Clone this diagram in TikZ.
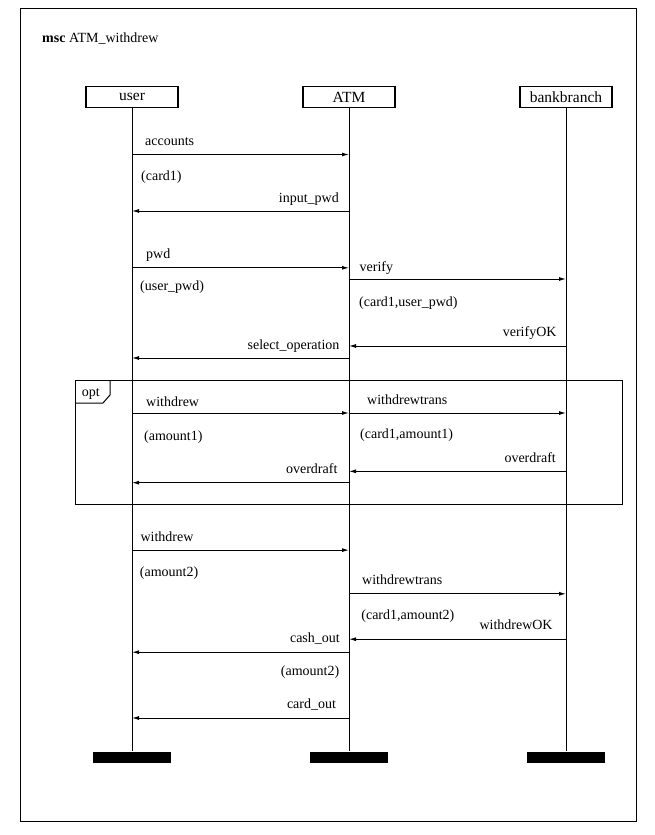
\documentclass[tikz,border=0pt]{standalone}
\usepackage{fontspec}
\setmainfont{Liberation Serif}
\usetikzlibrary{arrows.meta}
\begin{document}
\begin{tikzpicture}[x=1pt,y=-1pt,
  txt/.style={font=\fontsize{14}{16}\selectfont, inner sep=0pt},
  lw/.style={txt, anchor=base west},
  le/.style={txt, anchor=base east},
  inst/.style={draw, line width=1.1pt, minimum width=92pt, minimum height=21pt,
               inner sep=0pt, font=\fontsize{15.5}{17}\selectfont},
  endbar/.style={fill=black, minimum width=78pt, minimum height=11pt, inner sep=0pt},
  life/.style={line width=1pt},
  msg/.style={line width=1pt, -{Latex[length=7pt,width=4pt]}},
  frame/.style={line width=1pt}]
\useasboundingbox (0,0) rectangle (654,835);
\fill[white] (0,0) rectangle (654,835);

% diagram frame and title
\draw[frame] (20,8.5) rectangle (636,821);
\node[lw] (title) at (42,42) {\textbf{msc} ATM\_withdrew};

% instances
\node[inst] (u) at (132,97) {user};
\node[inst] (a) at (349,97) {ATM};
\node[inst] (b) at (566,97) {bankbranch};

% instance ends
\node[endbar] (ue) at (132,757) {};
\node[endbar] (ae) at (349,757) {};
\node[endbar] (be) at (566,757) {};

% lifelines
\draw[life] (u.south) -- (ue.north);
\draw[life] (a.south) -- (ae.north);
\draw[life] (b.south) -- (be.north);

% card and password
\draw[msg] (u |- 0,154.5) -- (a |- 0,154.5);
\node[lw] (m1) at (145,145) {accounts};
\node[lw] (p1) at (141,180.3) {(card1)};

\draw[msg] (a |- 0,211) -- (u |- 0,211);
\node[le] (m2) at (339,202) {input\_pwd};

\draw[msg] (u |- 0,267.8) -- (a |- 0,267.8);
\node[lw] (m3) at (146,258) {pwd};
\node[lw] (p3) at (140,290) {(user\_pwd)};

\draw[msg] (a |- 0,279) -- (b |- 0,279);
\node[lw] (m4) at (359.5,271) {verify};
\node[lw] (p4) at (359,306.5) {(card1,user\_pwd)};

\draw[msg] (b |- 0,346) -- (a |- 0,346);
\node[le] (m5) at (556.7,336) {verifyOK};

\draw[msg] (a |- 0,358) -- (u |- 0,358);
\node[le] (m6) at (339.6,349.3) {select\_operation};

% optional region
\draw[frame] (75,380) rectangle (622,504);
\draw[line width=1pt] (75,403) -- (103,403) -- (110,395) -- (110,380);
\node[lw] (opt) at (81.7,396) {opt};

\draw[msg] (u |- 0,413) -- (a |- 0,413);
\node[lw] (m7) at (146,406.7) {withdrew};
\node[lw] (p7) at (144,440) {(amount1)};

\draw[msg] (a |- 0,413) -- (b |- 0,413);
\node[lw] (m8) at (367,404.8) {withdrewtrans};
\node[lw] (p8) at (360,438.8) {(card1,amount1)};

\draw[msg] (b |- 0,471.3) -- (a |- 0,471.3);
\node[le] (m9) at (556,462) {overdraft};

\draw[msg] (a |- 0,482.7) -- (u |- 0,482.7);
\node[le] (m10) at (337.6,473) {overdraft};

% withdrawal
\draw[msg] (u |- 0,550.1) -- (a |- 0,550.1);
\node[lw] (m11) at (140.3,541) {withdrew};
\node[lw] (p11) at (139.7,576) {(amount2)};

\draw[msg] (a |- 0,593.8) -- (b |- 0,593.8);
\node[lw] (m12) at (362,584.2) {withdrewtrans};
\node[lw] (p12) at (361.2,619.9) {(card1,amount2)};

\draw[msg] (b |- 0,639.2) -- (a |- 0,639.2);
\node[le] (m13) at (552.8,629.3) {withdrewOK};

\draw[msg] (a |- 0,652.2) -- (u |- 0,652.2);
\node[le] (m14) at (340,642.1) {cash\_out};
\node[le] (p14) at (339.4,675.4) {(amount2)};

\draw[msg] (a |- 0,718) -- (u |- 0,718);
\node[le] (m15) at (336.2,708.8) {card\_out};
\end{tikzpicture}
\end{document}
